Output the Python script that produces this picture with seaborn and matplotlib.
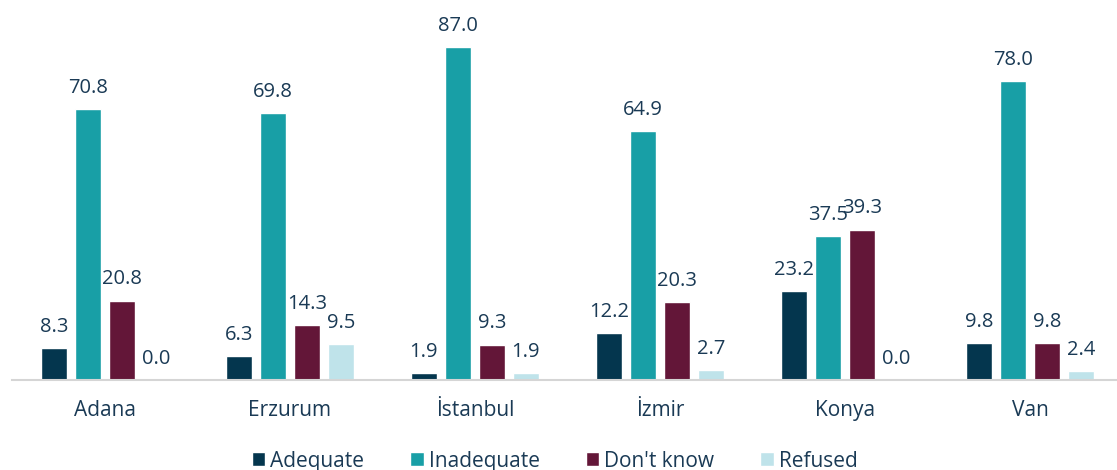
import pandas as pd
import matplotlib.pyplot as plt
import seaborn as sns

# Values
cities = ['Adana', 'Erzurum', 'İstanbul', 'İzmir', 'Konya', 'Van']
responses = ['Adequate', 'Inadequate', "Don't know", 'Refused']
adequate = [8.3, 6.3, 1.9, 12.2, 23.2, 9.8]
inadequate = [70.8, 69.8, 87.0, 64.9, 37.5, 78.0]
dont_know = [20.8, 14.3, 9.3, 20.3, 39.3, 9.8]
refused = [0.0, 9.5, 1.9, 2.7, 0.0, 2.4]

colors = ['#04364e', '#189fa6', '#631638', '#bfe3ea']
text_color = '#1a3a55'

rows = []
for resp, vals in zip(responses, [adequate, inadequate, dont_know, refused]):
    for city, v in zip(cities, vals):
        rows.append({'city': city, 'response': resp, 'value': v})
df = pd.DataFrame(rows)

sns.set_theme(style='white')
plt.rcParams['font.family'] = ['Open Sans', 'DejaVu Sans']

fig = plt.figure(figsize=(11.17, 4.7), dpi=100)
ax = fig.add_axes([0.011, 0.191, 0.989, 0.809])

sns.barplot(data=df, x='city', y='value', hue='response', order=cities,
            hue_order=responses, palette=colors, width=0.735, gap=0.24,
            saturation=1, ax=ax, errorbar=None)

for cont in ax.containers:
    ax.bar_label(cont, fmt='%.1f', padding=8, fontsize=14.5, color=text_color)

ax.set_xlim(-0.5, 5.47)
ax.set_ylim(0, 99.2)
ax.set_xlabel('')
ax.set_ylabel('')
ax.set_yticks([])
ax.tick_params(axis='x', length=0, labelsize=15, labelcolor=text_color, pad=14)
for s in ['top', 'right', 'left']:
    ax.spines[s].set_visible(False)
ax.spines['bottom'].set_color('#d5d5d5')
ax.spines['bottom'].set_linewidth(1.5)

ax.legend(loc='center', bbox_to_anchor=(0.491, -0.213), ncol=4, frameon=False,
          fontsize=15, labelcolor=text_color, handlelength=0.65, handleheight=0.65,
          handletextpad=0.25, columnspacing=2.2, borderaxespad=0)

plt.savefig('out.png', dpi=100)
plt.close()
